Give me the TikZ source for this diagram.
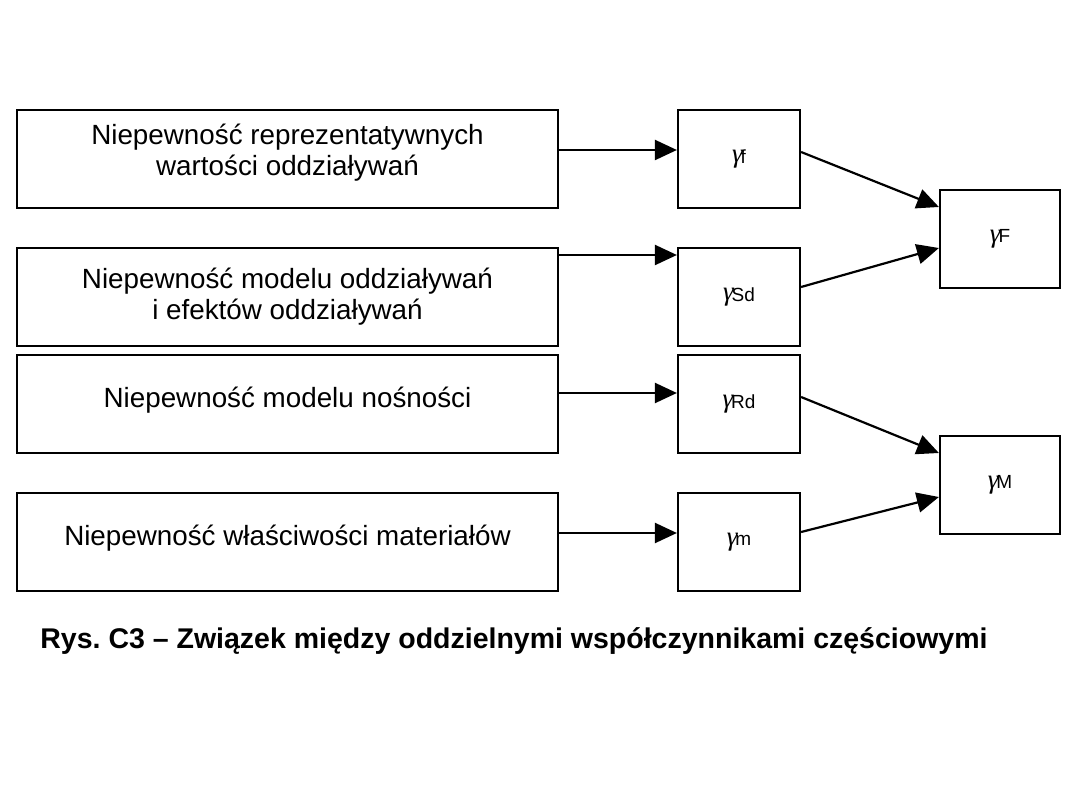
\documentclass[tikz,border=0pt]{standalone}
\usepackage{fontspec}
\setmainfont{Liberation Sans}
\newfontfamily\gfont{Liberation Serif}
\usetikzlibrary{arrows.meta}
\frenchspacing
\newcommand\gsub[1]{{\gfont\itshape\fontsize{27}{28}\selectfont γ}\kern-2pt\raisebox{-0.1ex}{\fontsize{19}{20}\selectfont #1}}
\begin{document}
\begin{tikzpicture}[x=1pt,y=-1pt,
  box/.style={draw, line width=2.2pt, minimum width=541pt, minimum height=98pt, inner sep=0pt},
  gbox/.style={draw, line width=2.2pt, minimum width=122pt, minimum height=98pt, inner sep=0pt},
  rbox/.style={draw, line width=2.2pt, minimum width=120pt, minimum height=98pt, inner sep=0pt},
  txt/.style={font=\fontsize{27.8}{31}\selectfont, align=center},
  arr/.style={line width=2.2pt, -{Triangle[length=22pt,width=20pt]}}]
\useasboundingbox (0,0) rectangle (1080,810);
% left boxes
\node[box] (b1) at (287.5,159) {};
\node[box] (b2) at (287.5,297) {};
\node[box] (b3) at (287.5,404) {};
\node[box] (b4) at (287.5,542) {};
\node[txt] (t1) at ([yshift=6pt]b1.center) {Niepewność reprezentatywnych\\wartości oddziaływań};
\node[txt] (t2) at ([yshift=0pt]b2.center) {Niepewność modelu oddziaływań\\i efektów oddziaływań};
\node[txt] (t3) at ([yshift=4pt]b3.center) {Niepewność modelu nośności};
\node[txt] (t4) at ([yshift=4pt]b4.center) {Niepewność właściwości materiałów};
% gamma boxes
\node[gbox] (g1) at (739,159) {\gsub{f}};
\node[gbox] (g2) at (739,297) {\gsub{Sd}};
\node[gbox] (g3) at (739,404) {\gsub{Rd}};
\node[gbox] (g4) at (739,542) {\gsub{m}};
\node[rbox] (gF) at (1000,239) {\gsub{F}};
\node[rbox] (gM) at (1000,485) {\gsub{M}};
% arrows
\draw[arr] ([yshift=9pt]b1.east) -- ([yshift=9pt]g1.west);
\draw[arr] ([yshift=42pt]b2.east) -- ([yshift=42pt]g2.west);
\draw[arr] ([yshift=11pt]b3.east) -- ([yshift=11pt]g3.west);
\draw[arr] ([yshift=9pt]b4.east) -- ([yshift=9pt]g4.west);
\draw[arr] ([yshift=7pt]g1.east) -- ([yshift=32pt]gF.west);
\draw[arr] ([yshift=10pt]g2.east) -- ([yshift=-9pt]gF.west);
\draw[arr] ([yshift=7pt]g3.east) -- ([yshift=32pt]gM.west);
\draw[arr] ([yshift=10pt]g4.east) -- ([yshift=-12pt]gM.west);
% caption
\node[font=\bfseries\fontsize{28.5}{32}\selectfont] (cap) at (514,641) {Rys. C3 – Związek między oddzielnymi współczynnikami częściowymi};
\end{tikzpicture}
\end{document}
